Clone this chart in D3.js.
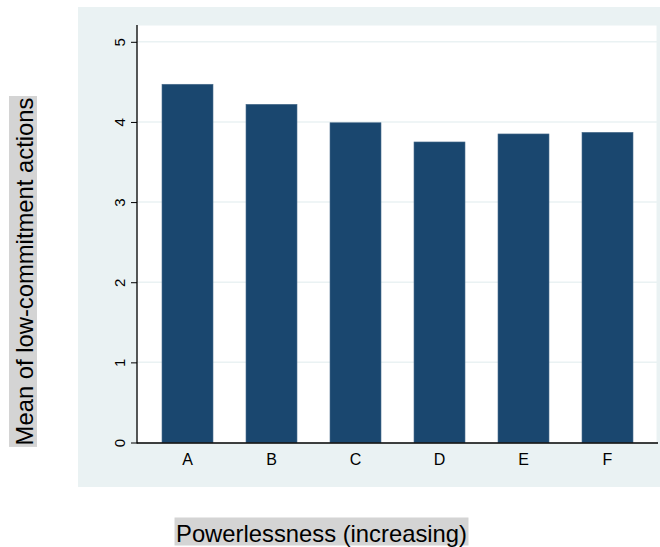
<!DOCTYPE html>
<html>
<head>
<meta charset="utf-8">
<script src="https://cdn.jsdelivr.net/npm/d3@7"></script>
<style>
  html, body { margin: 0; padding: 0; background: #ffffff; }
  svg { display: block; }
  text { font-family: "Liberation Sans", Arial, Helvetica, sans-serif; fill: #000; }
</style>
</head>
<body>
<script>
// ---- data ----
const categories = ["A", "B", "C", "D", "E", "F"];
const values = [4.47, 4.22, 3.99, 3.75, 3.85, 3.87];
const yTicks = [0, 1, 2, 3, 4, 5];
const yTitle = "Mean of low-commitment actions";
const xTitle = "Powerlessness (increasing)";

// ---- layout ----
const W = 660, H = 547;
const svg = d3.select("body").append("svg").attr("width", W).attr("height", H);

const outer = {x0: 78, y0: 7, x1: 660, y1: 487};
const plot = {x0: 137, y0: 25, x1: 657, y1: 443};

svg.append("rect").attr("x", 0).attr("y", 0).attr("width", W).attr("height", H).attr("fill", "#ffffff");
svg.append("rect")
  .attr("x", outer.x0).attr("y", outer.y0)
  .attr("width", outer.x1 - outer.x0).attr("height", outer.y1 - outer.y0)
  .attr("fill", "#eaf2f3");
svg.append("rect")
  .attr("x", plot.x0).attr("y", plot.y0)
  .attr("width", plot.x1 - plot.x0).attr("height", plot.y1 - plot.y0)
  .attr("fill", "#ffffff").attr("stroke", "#eaf2f3").attr("stroke-width", 1);

const x = d3.scaleBand().domain(categories)
  .range([145.5, 649.5]).paddingInner(0.393).paddingOuter(0.1965);
const y = d3.scaleLinear().domain([0, 5]).range([442.5, 41.8]);

// gridlines
svg.append("g").selectAll("line").data(yTicks.filter(d => d > 0)).join("line")
  .attr("x1", plot.x0).attr("x2", plot.x1)
  .attr("y1", d => y(d)).attr("y2", d => y(d))
  .attr("stroke", "#eaf2f3").attr("stroke-width", 1.5);

// bars
svg.append("g").selectAll("rect").data(categories).join("rect")
  .attr("x", (d) => x(d))
  .attr("y", (d, i) => y(values[i]))
  .attr("width", x.bandwidth())
  .attr("height", (d, i) => y(0) - y(values[i]))
  .attr("fill", "#1a476f")
  .attr("stroke", "#4a6d8c").attr("stroke-width", 0.6);

// y axis
const yAxis = d3.axisLeft(y).tickValues(yTicks).tickSize(6).tickFormat(d3.format("d"));
const gy = svg.append("g").attr("transform", `translate(${plot.x0},0)`).call(yAxis);
gy.select(".domain").remove();
gy.selectAll(".tick line").attr("stroke", "#000").attr("stroke-width", 1);
gy.selectAll(".tick text")
  .attr("x", null).attr("dy", null)
  .attr("transform", "translate(-12,0) rotate(-90)")
  .attr("text-anchor", "middle")
  .attr("dy", "0")
  .style("font-size", "15px")
  .style("font-family", "'Liberation Sans', Arial, sans-serif");
svg.append("line")
  .attr("x1", plot.x0).attr("x2", plot.x0)
  .attr("y1", plot.y0).attr("y2", plot.y1 + 0.5)
  .attr("stroke", "#000").attr("stroke-width", 1.3);

// x axis
const xAxis = d3.axisBottom(x).tickSize(0).tickPadding(0);
const gx = svg.append("g").attr("transform", `translate(0,${plot.y1})`).call(xAxis);
gx.select(".domain").remove();
gx.selectAll(".tick text")
  .attr("y", 22).attr("dy", null)
  .style("font-size", "16px")
  .style("font-family", "'Liberation Sans', Arial, sans-serif");
svg.append("line")
  .attr("x1", plot.x0).attr("x2", plot.x1 + 1)
  .attr("y1", plot.y1).attr("y2", plot.y1)
  .attr("stroke", "#000").attr("stroke-width", 1.3);

// titles with gray boxes
const fs = 23.8;
const xt = svg.append("g");
const xtBox = xt.append("rect").attr("fill", "#d4d4d4");
const xtText = xt.append("text")
  .attr("x", 321.5).attr("y", 541.5)
  .attr("text-anchor", "middle")
  .style("font-size", fs + "px")
  .text(xTitle);
const bx = xtText.node().getBBox();
xtBox.attr("x", bx.x - 1.5).attr("width", bx.width + 3)
  .attr("y", 541.5 - 24).attr("height", 28);

const yt = svg.append("g").attr("transform", "translate(33,271.5) rotate(-90)");
const ytBox = yt.append("rect").attr("fill", "#d4d4d4");
const ytText = yt.append("text")
  .attr("x", 0).attr("y", 0)
  .attr("text-anchor", "middle")
  .style("font-size", fs + "px")
  .text(yTitle);
const by = ytText.node().getBBox();
ytBox.attr("x", by.x - 1.5).attr("width", by.width + 3)
  .attr("y", -24).attr("height", 28);
</script>
</body>
</html>
